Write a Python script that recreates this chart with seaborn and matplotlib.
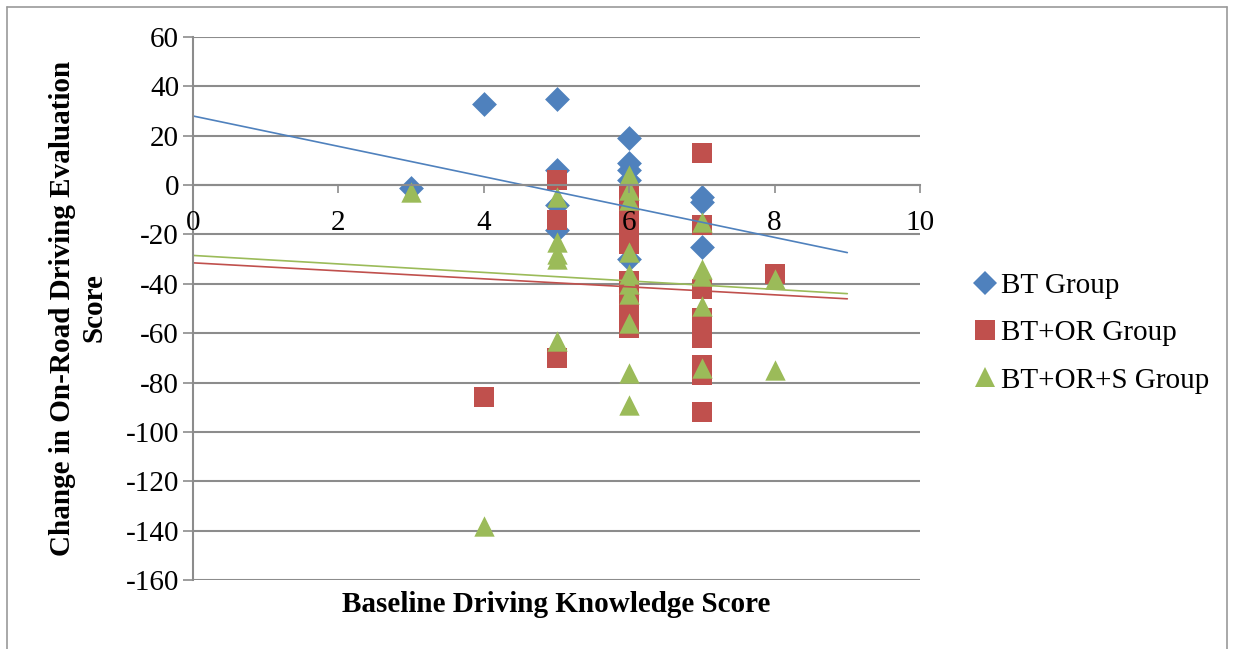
import numpy as np
import pandas as pd
import matplotlib
matplotlib.use("Agg")
import matplotlib.pyplot as plt
import seaborn as sns
from matplotlib.lines import Line2D

# ---------------- data ----------------
groups = ["BT Group", "BT+OR Group", "BT+OR+S Group"]

bt_x = [3, 4, 5, 5, 5, 5, 6, 6, 6, 6, 6, 7, 7, 7]
bt_y = [-1, 33, 35, 6, -8, -18, 19, 9, 6, 2, -30, -5, -7, -25]

btor_x = [4, 5, 5, 5, 6, 6, 6, 6, 6, 6, 6, 6, 6, 6, 7, 7, 7, 7, 7, 7, 7, 7, 7, 8]
btor_y = [-86, 2, -14, -70, -4, -10, -16, -21, -24, -39, -44, -48, -53, -58,
          13, -16, -42, -54, -58, -62, -73, -77, -92, -36]

btors_x = [3, 4, 5, 5, 5, 5, 5, 6, 6, 6, 6, 6, 6, 6, 6, 6, 6, 7, 7, 7, 7, 7, 8, 8]
btors_y = [-3, -138, -5, -23, -28, -30, -63, 4, -2, -6, -27, -36, -40, -44, -56,
           -76, -89, -15, -34, -37, -49, -74, -38, -75]

# linear trend lines (intercept, slope), drawn over x in [0, 9]
trend_intercepts = [28.0, -31.5, -28.5]
trend_slopes = [-6.15, -1.62, -1.72]
trend_x_range = [0, 9]

x_ticks = [0, 2, 4, 6, 8, 10]
y_ticks = [60, 40, 20, 0, -20, -40, -60, -80, -100, -120, -140, -160]

x_label = "Baseline Driving Knowledge Score"
y_label = "Change in On-Road Driving Evaluation\nScore"

# ---------------- style ----------------
sns.set_theme(style="white")
plt.rcParams["font.family"] = ["Liberation Serif", "DejaVu Serif"]
plt.rcParams["axes.unicode_minus"] = False
plt.rcParams["text.color"] = "black"
plt.rcParams["xtick.color"] = "black"
plt.rcParams["ytick.color"] = "black"
FS = 21

colors = ["#4F81BD", "#C0504D", "#9BBB59"]
markers = ["D", "s", "^"]
msizes = [160, 200, 215]
grid_col = "#8C8C8C"

df = pd.concat([
    pd.DataFrame({"x": bt_x, "y": bt_y, "group": groups[0]}),
    pd.DataFrame({"x": btor_x, "y": btor_y, "group": groups[1]}),
    pd.DataFrame({"x": btors_x, "y": btors_y, "group": groups[2]}),
], ignore_index=True)

W, H = 1234, 649
fig = plt.figure(figsize=(W / 100, H / 100), dpi=100)
ax = fig.add_axes([193 / W, 1 - 580 / H, 727 / W, 543 / H])

for g, c, m, s in zip(groups, colors, markers, msizes):
    sns.scatterplot(data=df[df["group"] == g], x="x", y="y", color=c, marker=m,
                    s=s, linewidth=0, ax=ax, zorder=1, legend=False)

xs = np.array(trend_x_range, dtype=float)
for b0, b1, c in zip(trend_intercepts, trend_slopes, colors):
    ax.plot(xs, b0 + b1 * xs, color=c, lw=1.2, zorder=2)

ax.set_xlim(x_ticks[0], x_ticks[-1])
ax.set_ylim(min(y_ticks), max(y_ticks))
ax.set_xticks(x_ticks)
ax.set_yticks(y_ticks)
ax.set_xlabel("")
ax.set_ylabel("")

# horizontal grid lines behind markers
ax.grid(False)
ax.hlines(y_ticks, x_ticks[0], x_ticks[-1], colors=grid_col, lw=1.5, zorder=0.5)
ax.set_axisbelow(False)

for sp in ["top", "right"]:
    ax.spines[sp].set_visible(False)
ax.spines["bottom"].set_position(("data", 0))
ax.spines["bottom"].set_color(grid_col)
ax.spines["bottom"].set_linewidth(1.5)
ax.spines["left"].set_color(grid_col)
ax.spines["left"].set_linewidth(1.5)

ax.tick_params(axis="x", direction="out", length=6, width=1.2, color=grid_col,
               labelsize=FS, labelcolor="black", pad=12, bottom=True)
ax.tick_params(axis="y", direction="out", length=7, width=1.2, color=grid_col,
               labelsize=FS, labelcolor="black", pad=3, left=True)

# axis titles
fig.text(78 / W, 1 - 308 / H, y_label, rotation=90, ha="center", va="center",
         multialignment="center", fontsize=FS, fontweight="bold", color="black")
fig.text(556 / W, 1 - 604 / H, x_label, ha="center", va="center",
         fontsize=FS, fontweight="bold", color="black")

# legend
handles = [Line2D([], [], ls="", marker=m, color=c, markersize=ms, markeredgewidth=0)
           for c, m, ms in zip(colors, markers, [12, 14, 15])]
leg = fig.legend(handles, groups, loc="center left", bbox_to_anchor=(975 / W, 1 - 333 / H),
                 frameon=False, fontsize=FS, handlelength=0.7, handletextpad=0.2,
                 labelspacing=0.72, borderpad=0, borderaxespad=0)
for t in leg.get_texts():
    t.set_color("black")

# outer frame of the picture
frame_col = "#9A9A9A"
fig.add_artist(Line2D([7 / W, 7 / W], [0, 1 - 7 / H], color=frame_col, lw=1.2,
                      transform=fig.transFigure))
fig.add_artist(Line2D([7 / W, 1227 / W], [1 - 7 / H, 1 - 7 / H], color=frame_col, lw=1.2,
                      transform=fig.transFigure))
fig.add_artist(Line2D([1227 / W, 1227 / W], [0, 1 - 7 / H], color=frame_col, lw=1.2,
                      transform=fig.transFigure))

fig.savefig("out.png", dpi=100)
